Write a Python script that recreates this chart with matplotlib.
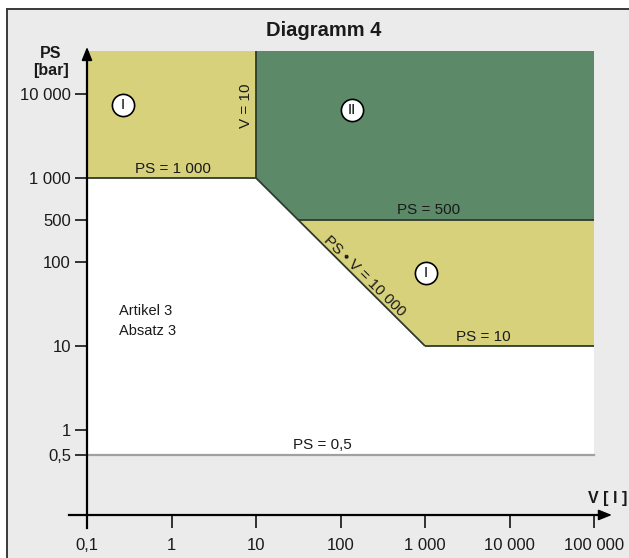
import numpy as np
import matplotlib
matplotlib.use('Agg')
import matplotlib.pyplot as plt
from matplotlib.patches import Rectangle
from matplotlib.lines import Line2D
from matplotlib.ticker import NullLocator

plt.rcParams['font.family'] = ['Liberation Sans', 'DejaVu Sans']

# ---------------- data ----------------
v_ticks = [0.1, 1, 10, 100, 1000, 10000, 100000]
v_labels = ['0,1', '1', '10', '100', '1 000', '10 000', '100 000']
ps_ticks = [0.5, 1, 10, 100, 500, 1000, 10000]
ps_labels = ['0,5', '1', '10', '100', '500', '1 000', '10 000']

V_MIN, V_MAX = 0.1, 100000
V_LIMIT = 10            # V = 10
PS_HIGH = 1000          # PS = 1 000
PS_MID = 500            # PS = 500
PS_LOW = 10             # PS = 10
PS_MIN = 0.5            # PS = 0,5
PSV_PRODUCT = 10000     # PS * V = 10 000
PS_TOP = 32500          # upper end of the drawn diagram

# schematic PS axis: logarithmic, but 500 drawn midway between 100 and 1 000
SCALE_LOG = np.array([-6.0, 2.0, np.log10(500), 3.0, 8.0])
SCALE_POS = np.array([-6.0, 2.0, 2.5, 3.0, 8.0])


def fwd(y):
    y = np.asarray(y, dtype=float)
    return np.interp(np.log10(np.clip(y, 1e-300, None)), SCALE_LOG, SCALE_POS)


def inv(p):
    return 10 ** np.interp(np.asarray(p, dtype=float), SCALE_POS, SCALE_LOG)


W, H = 629, 558
fig = plt.figure(figsize=(W / 100, H / 100), dpi=100, facecolor='white')


def P(x, y):
    return (x / W, 1 - y / H)


# framed grey background
fig.add_artist(Rectangle((7 / W, 0), 1 - 7 / W, 1 - 9 / H, transform=fig.transFigure,
                         fc='#ebebeb', ec='none', zorder=-10))
fig.add_artist(Line2D([7 / W, 7 / W], [0, 1 - 9 / H], transform=fig.transFigure,
                      color='#3a3a3a', lw=1.4, zorder=-9))
fig.add_artist(Line2D([7 / W, 1], [1 - 9 / H, 1 - 9 / H], transform=fig.transFigure,
                      color='#3a3a3a', lw=1.4, zorder=-9))

ax = fig.add_axes([0, 0, 1, 1])
ax.patch.set_visible(False)
ax.set_xscale('log')
ax.set_yscale('function', functions=(fwd, inv))
ax.set_xlim(10 ** -2.0296, 10 ** 5.414)
ax.set_ylim(inv(-1.524), inv(5.119))

YELLOW = '#d8d17c'
GREEN = '#5c8a69'
EDGE = '#2e3a2e'

# V where the PS*V line (straight in the drawing) meets PS = 500
V_AT_LOW = PSV_PRODUCT / PS_LOW
v_mid = 10 ** np.interp(fwd(PS_MID), [fwd(PS_LOW), fwd(PS_HIGH)],
                        [np.log10(V_AT_LOW), np.log10(V_LIMIT)])

# white field above PS = 0,5
ax.fill([V_MIN, V_MAX, V_MAX, V_MIN], [PS_MIN, PS_MIN, PS_TOP, PS_TOP],
        color='white', lw=0, zorder=1)
# category I (upper left)
ax.fill([V_MIN, V_LIMIT, V_LIMIT, V_MIN], [PS_HIGH, PS_HIGH, PS_TOP, PS_TOP],
        color=YELLOW, lw=0, zorder=2)
# category II
ax.fill([V_LIMIT, V_MAX, V_MAX, v_mid, V_LIMIT],
        [PS_TOP, PS_TOP, PS_MID, PS_MID, PS_HIGH],
        color=GREEN, lw=0, zorder=2)
# category I (lower right)
ax.fill([v_mid, V_MAX, V_MAX, V_AT_LOW], [PS_MID, PS_MID, PS_LOW, PS_LOW],
        color=YELLOW, lw=0, zorder=2)

# boundary lines
lk = dict(color=EDGE, lw=1.3, zorder=3, solid_capstyle='butt')
ax.plot([V_MIN, V_LIMIT], [PS_HIGH, PS_HIGH], **lk)
ax.plot([V_LIMIT, V_LIMIT], [PS_HIGH, PS_TOP], **lk)
ax.plot([V_LIMIT, V_AT_LOW], [PS_HIGH, PS_LOW], **lk)
ax.plot([v_mid, V_MAX], [PS_MID, PS_MID], **lk)
ax.plot([V_AT_LOW, V_MAX], [PS_LOW, PS_LOW], **lk)
ax.plot([V_MIN, V_MAX], [PS_MIN, PS_MIN], color='#a0a0a0', lw=1.6, zorder=3)

# axes with arrows
X_AXIS_PS = 0.0973
for s in ('top', 'right'):
    ax.spines[s].set_visible(False)
ax.spines['left'].set_position(('data', V_MIN))
ax.spines['left'].set_bounds(0.068, 30000)
ax.spines['bottom'].set_position(('data', X_AXIS_PS))
ax.spines['bottom'].set_bounds(0.0612, 140000)
for s in ('left', 'bottom'):
    ax.spines[s].set_linewidth(1.6)
    ax.spines[s].set_color('black')
    ax.spines[s].set_zorder(4)

arrow = dict(arrowstyle='-|>,head_length=0.8,head_width=0.32', color='black',
             lw=1.2, shrinkA=0, shrinkB=0)
ax.annotate('', xy=(V_MIN, 36300), xytext=(V_MIN, 20000), arrowprops=arrow, zorder=5)
ax.annotate('', xy=(163000, X_AXIS_PS), xytext=(90000, X_AXIS_PS), arrowprops=arrow, zorder=5)

ax.set_xticks(v_ticks, v_labels)
ax.set_yticks(ps_ticks, ps_labels)
ax.xaxis.set_minor_locator(NullLocator())
ax.yaxis.set_minor_locator(NullLocator())
ax.tick_params(axis='y', direction='out', length=8.6, width=1.1, pad=3,
               labelsize=12, labelcolor='#1a1a1a')
ax.tick_params(axis='x', direction='out', length=9.4, width=1.1, pad=7,
               labelsize=12, labelcolor='#1a1a1a')

# title and axis labels
fig.text(*P(324, 31), 'Diagramm 4', ha='center', va='center', fontsize=14.5,
         fontweight='bold', color='#1a1a1a')
fig.text(*P(51, 53), 'PS', ha='center', va='center', fontsize=11.5,
         fontweight='bold', color='#1a1a1a')
fig.text(*P(51, 70), '[bar]', ha='center', va='center', fontsize=11.5,
         fontweight='bold', color='#1a1a1a')
fig.text(*P(588, 499), 'V [ l ]', ha='left', va='center', fontsize=11.5,
         fontweight='bold', color='#1a1a1a')

# region labels
tk = dict(ha='center', va='center', fontsize=11, color='#1a1a1a', zorder=6)
fig.text(*P(173, 169), 'PS = 1 000', **tk)
fig.text(*P(246, 106), 'V = 10', rotation=90, **tk)
fig.text(*P(429, 210), 'PS = 500', **tk)
fig.text(*P(483, 337), 'PS = 10', **tk)
fig.text(*P(322, 445), 'PS = 0,5', **tk)
fig.text(*P(364, 276), 'PS • V = 10 000', rotation=-44.5, rotation_mode='anchor', **tk)
fig.text(*P(119, 311), 'Artikel 3', ha='left', va='center', fontsize=10.5, color='#1a1a1a')
fig.text(*P(119, 331), 'Absatz 3', ha='left', va='center', fontsize=10.5, color='#1a1a1a')

# category markers
for (cx, cy, lab) in [(123, 105, 'I'), (352, 110, 'II'), (426, 273, 'I')]:
    fx, fy = P(cx, cy)
    fig.add_artist(Line2D([fx], [fy], transform=fig.transFigure, marker='o',
                          ms=16, mfc='white', mec='black', mew=1.2, zorder=7))
    fig.text(fx, fy, lab, ha='center', va='center', fontsize=10.5,
             color='black', zorder=8)

fig.savefig('out.png', dpi=100, facecolor='white')
